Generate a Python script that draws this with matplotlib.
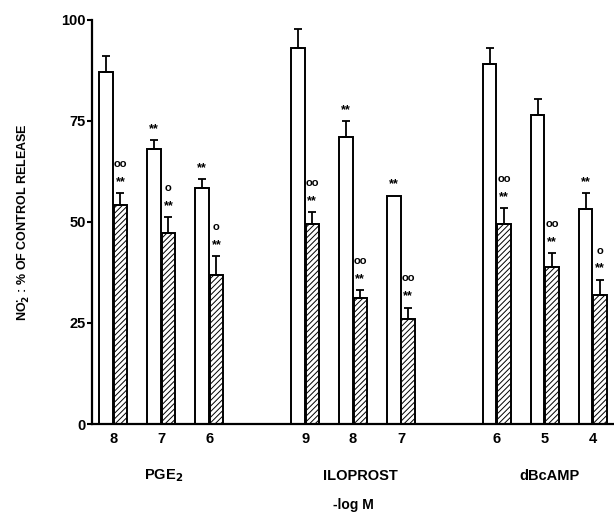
import numpy as np
import matplotlib.pyplot as plt

plt.rcParams['font.family'] = ['Liberation Sans', 'DejaVu Sans']
plt.rcParams['font.weight'] = 'bold'
plt.rcParams['hatch.linewidth'] = 0.7

# data (% of control release)
tick_labels = ['8', '7', '6', '9', '8', '7', '6', '5', '4']
groups = ['PGE$_\\mathbf{2}$', 'ILOPROST', 'dBcAMP']
control = [87, 68, 58.5, 93, 71, 56.5, 89, 76.5, 53.2]
control_err = [4.2, 2.2, 2.1, 4.7, 3.9, 0, 4.0, 3.9, 4.0]
treated = [54.2, 47.3, 37, 49.5, 31.2, 26, 49.5, 38.9, 32]
treated_err = [3.0, 3.9, 4.5, 3.0, 2.0, 2.8, 4.0, 3.4, 3.7]
control_mark = ['', '**', '**', '', '**', '**', '', '', '**']
treated_circ = ['oo', 'o', 'o', 'oo', 'oo', 'oo', 'oo', 'oo', 'o']

pos = np.array([0, 1, 2, 4, 5, 6, 8, 9, 10], dtype=float)
w = 0.28

fig = plt.figure(figsize=(6.14, 5.2), dpi=100)
ax = fig.add_axes([0.150, 0.1846, 0.85, 0.777])

ax.bar(pos - 0.15, control, w, color='white', edgecolor='black', linewidth=1.4)
ax.bar(pos + 0.15, treated, w, color='white', edgecolor='black', linewidth=1.4,
       hatch='//////')

c = np.array(control_err) > 0
ax.errorbar((pos - 0.15)[c], np.array(control)[c],
            yerr=[np.zeros(c.sum()), np.array(control_err)[c]],
            fmt='none', ecolor='black', elinewidth=1.3, capsize=3, capthick=1.3)
ax.errorbar(pos + 0.15, treated, yerr=[np.zeros(len(pos)), treated_err],
            fmt='none', ecolor='black', elinewidth=1.3, capsize=3, capthick=1.3)

for i in range(len(pos)):
    if control_mark[i]:
        ax.annotate(control_mark[i], (pos[i] - 0.15, control[i] + control_err[i]),
                    xytext=(0, 8), textcoords='offset points',
                    ha='center', va='center', fontsize=9)
    top = treated[i] + treated_err[i]
    ax.annotate('**', (pos[i] + 0.15, top), xytext=(0, 8),
                textcoords='offset points', ha='center', va='center', fontsize=9)
    ax.annotate(treated_circ[i], (pos[i] + 0.15, top), xytext=(0, 21),
                textcoords='offset points', ha='center', va='center', fontsize=8)

ax.set_xlim(-0.44, 10.44)
ax.set_ylim(0, 100)
ax.set_yticks([0, 25, 50, 75, 100])
ax.set_xticks(pos)
ax.set_xticklabels(tick_labels)
ax.tick_params(axis='x', length=0, pad=6, labelsize=10.5)
ax.tick_params(axis='y', length=3.5, width=1.5, labelsize=10.5, pad=1)
for s in ['top', 'right']:
    ax.spines[s].set_visible(False)
for s in ['left', 'bottom']:
    ax.spines[s].set_linewidth(1.6)

tr = ax.get_xaxis_transform()
for gx, g in zip([1.05, 5.15, 9.1], groups):
    ax.text(gx, -0.128, g, transform=tr, ha='center', va='center', fontsize=10.5)
ax.text(5.0, -0.20, '-log M', transform=tr, ha='center', va='center', fontsize=10)

ax.set_ylabel(r'NO$_\mathbf{2}^{\mathbf{\cdot}}$ : % OF CONTROL RELEASE',
              fontsize=9, fontweight='bold')
ax.yaxis.set_label_coords(-0.115, 0.5)

fig.savefig('out.png', dpi=100)
